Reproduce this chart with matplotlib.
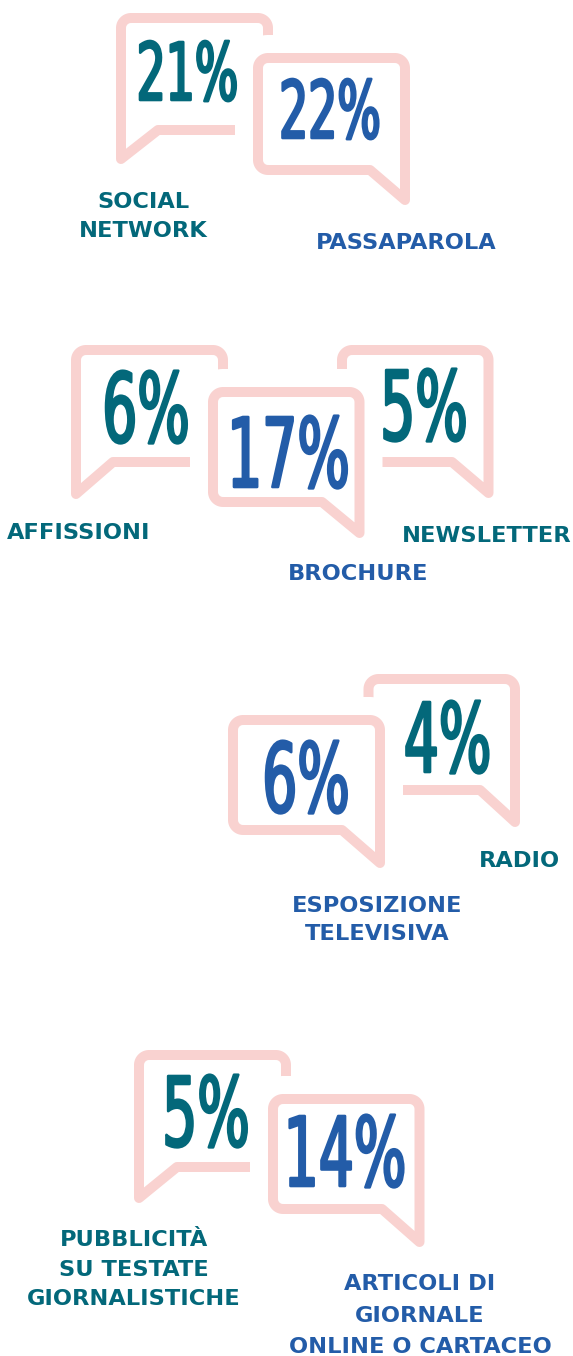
import numpy as np
import matplotlib
matplotlib.use("Agg")
import matplotlib.pyplot as plt
from matplotlib.path import Path
from matplotlib.patches import PathPatch
from matplotlib.transforms import Affine2D
from matplotlib.patheffects import AbstractPathEffect

# ---------------- data ----------------
channels = ["SOCIAL\nNETWORK", "PASSAPAROLA", "AFFISSIONI", "BROCHURE", "NEWSLETTER",
            "ESPOSIZIONE\nTELEVISIVA", "RADIO",
            "PUBBLICITÀ\nSU TESTATE\nGIORNALISTICHE", "ARTICOLI DI\nGIORNALE\nONLINE O CARTACEO"]
values = [21, 22, 6, 17, 5, 6, 4, 5, 14]
groups = ["teal", "blue", "teal", "blue", "teal", "blue", "teal", "teal", "blue"]

# ---------------- styles ----------------
COLORS = {"teal": "#03687A", "blue": "#235CA8"}
PINK = "#F9D2D0"
PX = 0.72  # points per pixel at dpi 100
SX = 0.575  # width / height ratio of the condensed percentage figures

# ---------------- layout (pixel coordinates, y downward) ----------------
# bubble: x0, x1, y_top, y_bottom, tip_y, join_x, tail side, front?
# text: center x, baseline, digit height (px)
# label: center x, first baseline, line gap
layout = [
    dict(b=(121, 268, 18, 130, 159, 158, "left", False), t=(187.5, 100, 58), l=(143, 208, 29)),
    dict(b=(258, 405, 58, 170, 200, 370, "right", True), t=(330, 138, 58), l=(406, 249, 29)),
    dict(b=(76, 223, 350, 462, 494, 113, "left", False), t=(146, 442, 70), l=(78.5, 539, 29)),
    dict(b=(213, 359.5, 392, 502, 533, 322, "right", True), t=(288.5, 487, 70), l=(358, 580, 29)),
    dict(b=(342, 488.5, 350, 462, 493, 452, "right", False), t=(424, 440, 70), l=(487, 542, 29)),
    dict(b=(233, 380, 720, 830, 863, 342, "right", True), t=(306, 812, 70), l=(377.5, 912, 28)),
    dict(b=(368.5, 515, 679, 790, 822, 480, "right", False), t=(447.5, 772, 70), l=(519.5, 867, 29)),
    dict(b=(139, 286, 1055, 1167, 1198, 177, "left", False), t=(206, 1146, 70), l=(134, 1246, 29.5)),
    dict(b=(273, 419.5, 1099, 1209, 1242, 382, "right", True), t=(345, 1186, 70), l=(420, 1290, 31.5)),
]


class Tall(AbstractPathEffect):
    """Stretch text vertically about its baseline (a condensed look), slightly emboldened."""
    def __init__(self, sy, lw):
        super().__init__()
        self.sy = sy
        self.lw = lw

    def draw_path(self, renderer, gc, tpath, affine, rgbFace=None):
        tr = Affine2D().scale(1, self.sy) + affine
        gc0 = renderer.new_gc()
        gc0.copy_properties(gc)
        gc0.set_linewidth(self.lw)
        gc0.set_foreground(rgbFace)
        gc0.set_joinstyle("round")
        renderer.draw_path(gc0, tpath, tr, rgbFace)
        gc0.restore()


def arc(cx, cy, r, a0, a1, n=12):
    a = np.radians(np.linspace(a0, a1, n))
    return list(zip(cx + r * np.cos(a), cy + r * np.sin(a)))


def bubble_path(x0, x1, y0, y1, tip, join, side, r=10):
    pts = []
    if side == "left":
        pts.append((x0, tip))
        pts.append((x0, y0 + r))
        pts += arc(x0 + r, y0 + r, r, 180, 270)
        pts.append((x1 - r, y0))
        pts += arc(x1 - r, y0 + r, r, 270, 360)
        pts.append((x1, y1 - r))
        pts += arc(x1 - r, y1 - r, r, 0, 90)
        pts.append((join, y1))
        pts.append((x0, tip))
    else:
        pts.append((x1, tip))
        pts.append((join, y1))
        pts.append((x0 + r, y1))
        pts += arc(x0 + r, y1 - r, r, 90, 180)
        pts.append((x0, y0 + r))
        pts += arc(x0 + r, y0 + r, r, 180, 270)
        pts.append((x1 - r, y0))
        pts += arc(x1 - r, y0 + r, r, 270, 360)
        pts.append((x1, tip))
    codes = [Path.MOVETO] + [Path.LINETO] * (len(pts) - 2) + [Path.CLOSEPOLY]
    return Path(pts, codes)


fig = plt.figure(figsize=(5.73, 13.56), dpi=100)
ax = fig.add_axes([0, 0, 1, 1])
ax.set_xlim(0, 573)
ax.set_ylim(1356, 0)
ax.axis("off")

DIGIT_EM = 0.729  # DejaVu digit height / em
for i, (lab, val, grp) in enumerate(zip(channels, values, groups)):
    L = layout[i]
    x0, x1, y0, y1, tip, join, side, front = L["b"]
    path = bubble_path(x0, x1, y0, y1, tip, join, side)
    base_z = 4 if front else 1
    if front:
        ax.add_patch(PathPatch(path, facecolor="white", edgecolor="white",
                               lw=46 * PX, joinstyle="round", zorder=base_z - 1))
    else:
        ax.add_patch(PathPatch(path, facecolor="white", edgecolor="none", zorder=base_z - 1))
    ax.add_patch(PathPatch(path, facecolor="none", edgecolor=PINK, lw=10 * PX,
                           joinstyle="round", capstyle="round", zorder=base_z))

    tx, tb, th = L["t"]
    fs = th / DIGIT_EM * PX * SX  # nominal size gives the condensed width
    ax.text(tx, tb, f"{val}%", ha="center", va="baseline", fontsize=fs,
            family="DejaVu Sans", weight="normal", color=COLORS[grp], zorder=10,
            path_effects=[Tall(1.0 / SX, 2.6 * PX)])

    lx, lb, gap = L["l"]
    for k, line in enumerate(lab.split("\n")):
        ax.text(lx, lb + k * gap, line, ha="center", va="baseline",
                fontsize=16.2, family="DejaVu Sans", weight="bold",
                color=COLORS[grp], zorder=10)

fig.savefig("out.png", dpi=100, facecolor="white")
